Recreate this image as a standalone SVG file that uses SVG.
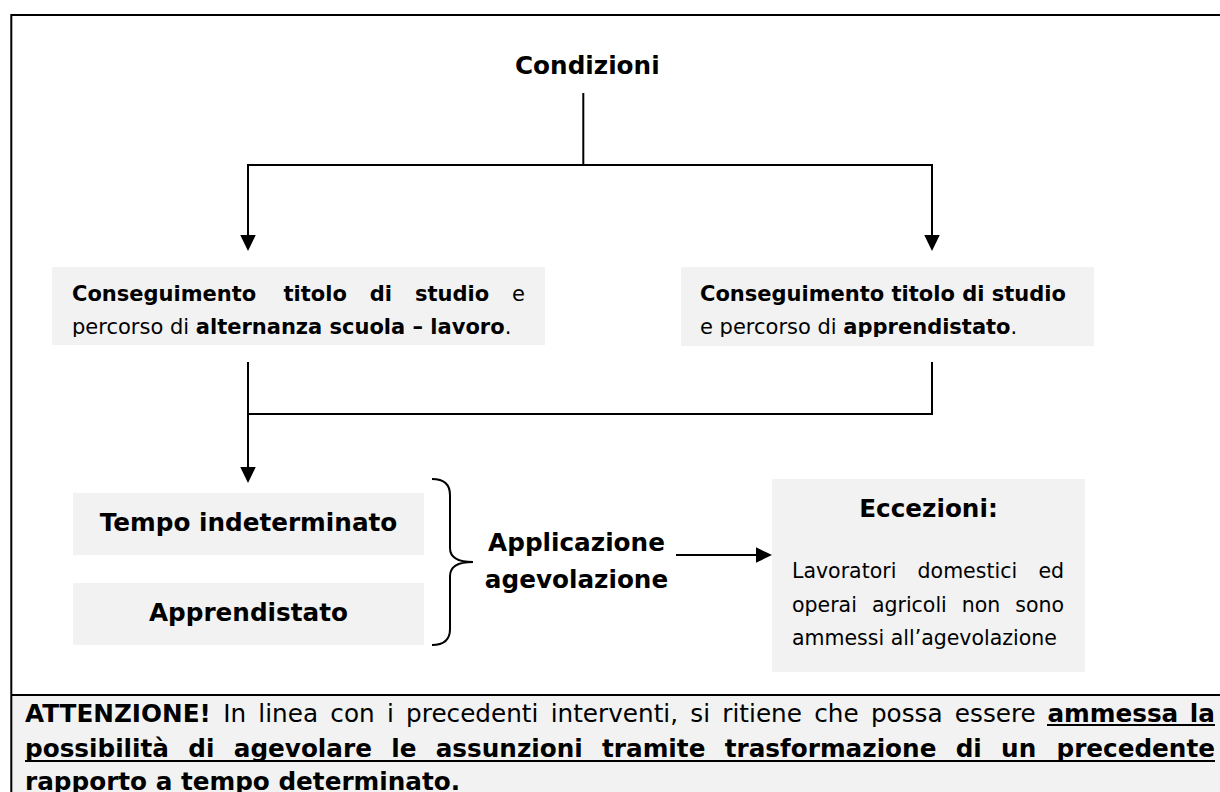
<svg xmlns="http://www.w3.org/2000/svg" width="1220" height="792" viewBox="0 0 1220 792">
<style>
text{font-family:'DejaVu Sans',Verdana,sans-serif;fill:#000}
.b{font-weight:bold}
.big{font-size:24.7px;font-weight:bold}
.s21{font-size:21px}
.s20{font-size:20.5px}
.box{fill:#f2f2f2}
.ln{stroke:#000;stroke-width:2;fill:none}
</style>
<defs>
<marker id="ah" viewBox="0 0 16 16" refX="4" refY="8" markerWidth="16" markerHeight="16" markerUnits="userSpaceOnUse" orient="auto">
<path d="M0,0.25 L16,8 L0,15.75 z" fill="#000"/>
</marker>
<clipPath id="c1"><rect x="40" y="260" width="520" height="77"/></clipPath>
<clipPath id="c2"><rect x="670" y="260" width="440" height="77"/></clipPath>
</defs>
<g id="frame">
<rect x="12" y="696" width="1210" height="100" class="box"/>
<path class="ln" d="M1230,15 H11.3 V800"/>
<path class="ln" d="M11.3,695 H1230"/>
</g>
<g id="connectors">
<path class="ln" d="M583.3,93 V165"/>
<path class="ln" d="M248,165 H932.5"/>
<path class="ln" d="M248,164 V239" marker-end="url(#ah)"/>
<path class="ln" d="M932,164 V239" marker-end="url(#ah)"/>
<path class="ln" d="M248,362 V471" marker-end="url(#ah)"/>
<path class="ln" d="M248,414 H932.5"/>
<path class="ln" d="M932,362 V415"/>
<path class="ln" d="M676,555 H760" marker-end="url(#ah)"/>
<path class="ln" d="M432,479 Q450,479 450,495 L450,548 Q450,562 473,562 Q450,562 450,576 L450,629 Q450,645 432,645"/>
</g>
<g id="condizioni">
<text class="big" x="515" y="74">Condizioni</text>
</g>
<g id="box1">
<rect class="box" x="52" y="267" width="493" height="78"/>
<g clip-path="url(#c1)">
<text class="s21" y="301"><tspan class="b" x="72">Conseguimento</tspan><tspan class="b" x="283.5">titolo</tspan><tspan class="b" x="369.8">di</tspan><tspan class="b" x="415">studio</tspan><tspan x="512.1">e</tspan></text>
<text class="s21" x="72" y="334">percorso di <tspan class="b">alternanza scuola – lavoro</tspan>.</text>
</g>
</g>
<g id="box2">
<rect class="box" x="681" y="267" width="413" height="79"/>
<g clip-path="url(#c2)">
<text class="s21 b" x="700" y="301">Conseguimento titolo di studio</text>
<text class="s21" x="700" y="334">e percorso di <tspan class="b">apprendistato</tspan>.</text>
</g>
</g>
<g id="tempo">
<rect class="box" x="73" y="493" width="351" height="62"/>
<text class="big" x="248.5" y="531" text-anchor="middle">Tempo indeterminato</text>
</g>
<g id="apprendistato">
<rect class="box" x="73" y="583" width="351" height="62"/>
<text class="big" x="248.5" y="621" text-anchor="middle">Apprendistato</text>
</g>
<g id="applicazione">
<text class="big" x="576.5" y="551" text-anchor="middle">Applicazione</text>
<text class="big" x="576.5" y="588" text-anchor="middle">agevolazione</text>
</g>
<g id="eccezioni">
<rect class="box" x="772" y="479" width="313" height="193"/>
<text class="big" x="928.5" y="517" text-anchor="middle">Eccezioni:</text>
<text class="s20" y="578"><tspan x="792">Lavoratori</tspan><tspan x="917.6">domestici</tspan></text>
<text class="s20" x="1064" y="578" text-anchor="end">ed</text>
<text class="s20" y="612"><tspan x="792">operai</tspan><tspan x="871.9">agricoli</tspan><tspan x="961.8">non</tspan></text>
<text class="s20" x="1064" y="612" text-anchor="end">sono</text>
<text class="s20" x="792" y="645">ammessi all’agevolazione</text>
</g>
<g id="attenzione">
<text style="font-size:24.7px" x="25" y="722" word-spacing="4.45"><tspan class="b">ATTENZIONE!</tspan> In linea con i precedenti interventi, si ritiene che possa essere</text>
<text class="big" x="1215" y="722" text-anchor="end" word-spacing="3">ammessa la</text>
<text class="big" x="25" y="757" word-spacing="10.7">possibilità di agevolare le assunzioni tramite trasformazione di un</text>
<text class="big" x="1215" y="757" text-anchor="end">precedente</text>
<text class="big" x="25" y="790">rapporto a tempo determinato.</text>
<path class="ln" d="M1047,725 H1215 M25,761 H1215"/>
</g>
</svg>
